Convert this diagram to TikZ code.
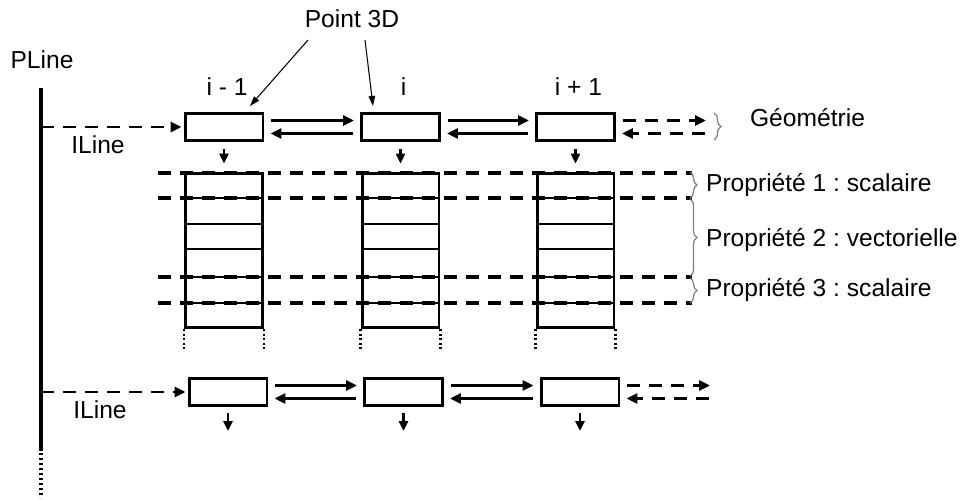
\documentclass[tikz,border=0pt]{standalone}
\usepackage{fontspec}
\setmainfont{Liberation Sans}
\usetikzlibrary{arrows.meta,decorations.pathreplacing}
\frenchspacing

\begin{document}
\begin{tikzpicture}[x=0.02cm, y=-0.02cm,
  every node/.style={font=\fontsize{14}{16}\selectfont, inner sep=1pt},
  pbox/.style={draw, line width=1.7pt, minimum width=1.56cm, minimum height=0.54cm, inner sep=0pt},
  pcol/.style={draw, line width=1.7pt, minimum width=1.54cm, minimum height=3.1cm, inner sep=0pt},
  link/.style={line width=1.7pt, shorten <=0.14cm, shorten >=0.12cm, -{Triangle[length=0.22cm,width=0.2cm]}},
  down/.style={line width=1.5pt, -{Triangle[length=0.2cm,width=0.18cm]}},
  dsh/.style={dash pattern=on 0.26cm off 0.18cm},
  ptr/.style={line width=0.6pt, -{Triangle[length=0.2cm,width=0.13cm]}},
  brc/.style={draw=gray, line width=0.7pt, decorate, decoration={brace, amplitude=4pt}}]
  \useasboundingbox (0,0) rectangle (968,500);

  % the PLine
  \node (pl) at (42,60) {PLine};
  \coordinate (ptop) at (41,88);
  \coordinate (pend) at (41,448);
  \coordinate (pbot) at (41,498);
  \draw[line width=2pt] (ptop) -- (pend);
  \draw[line width=2pt, dash pattern=on 0.05cm off 0.05cm] (pend) -- (pbot);

  % property lines
  \foreach \y in {173,198,277,303}
    \draw[dsh, line width=2pt] (158,\y) -- (692,\y);

  % first ILine, points and their properties
  \foreach \n/\x/\lab in {1/224/{i - 1}, 2/400.5/i, 3/575.5/{i + 1}} {
    \node[pbox] (t\n) at (\x,127) {};
    \node (l\n) at (\x+3,87) {\lab};
    \node[pcol] (c\n) at (\x,250.5) {};
    \foreach \y in {198,224,249,277,303}
      \draw[line width=1.4pt] (\x-38.5,\y) -- (\x+38.5,\y);
    \draw[line width=1.4pt, dash pattern=on 0.04cm off 0.05cm] (c\n.south west) -- ++(0,20);
    \draw[line width=1.4pt, dash pattern=on 0.04cm off 0.05cm] (c\n.south east) -- ++(0,20);
    \draw[down, shorten <=0.14cm, shorten >=0.16cm] (t\n) -- (c\n);
  }
  \foreach \a/\b in {1/2,2/3} {
    \draw[link] ([yshift=0.13cm]t\a.east) -- ([yshift=0.13cm]t\b.west);
    \draw[link] ([yshift=-0.13cm]t\b.west) -- ([yshift=-0.13cm]t\a.east);
  }
  \coordinate (tr) at (712,127);
  \draw[link, dsh] ([yshift=0.13cm]t3.east) -- ([yshift=0.13cm]tr);
  \draw[link, dsh] ([yshift=-0.13cm]tr) -- ([yshift=-0.13cm]t3.east);
  \draw[link, dsh, shorten <=0pt, shorten >=0.04cm] (ptop |- t1) -- (t1.west);
  \node (il1) at (98,145) {ILine};

  % second ILine
  \foreach \n/\x in {1/228,2/403.5,3/580} {
    \node[pbox] (b\n) at (\x,392) {};
    \coordinate (d\n) at (\x,431);
    \draw[down, shorten <=0.12cm] (b\n) -- (d\n);
  }
  \foreach \a/\b in {1/2,2/3} {
    \draw[link] ([yshift=0.13cm]b\a.east) -- ([yshift=0.13cm]b\b.west);
    \draw[link] ([yshift=-0.13cm]b\b.west) -- ([yshift=-0.13cm]b\a.east);
  }
  \coordinate (br) at (716,392);
  \draw[link, dsh] ([yshift=0.13cm]b3.east) -- ([yshift=0.13cm]br);
  \draw[link, dsh] ([yshift=-0.13cm]br) -- ([yshift=-0.13cm]b3.east);
  \draw[link, dsh, shorten <=0pt, shorten >=0.04cm] (ptop |- b1) -- (b1.west);
  \node (il2) at (100,410) {ILine};

  % Point 3D
  \node[anchor=base] (p3d) at (352,28) {Point 3D};
  \draw[ptr] ([xshift=-0.88cm,yshift=-0.24cm]p3d.base) -- ([xshift=0.52cm,yshift=0.12cm]t1.north);
  \draw[ptr] ([xshift=0.26cm,yshift=-0.24cm]p3d.base) -- ([xshift=-0.55cm,yshift=0.12cm]t2.north);

  % braces and names
  \draw[brc] (714,113) -- (714,140);
  \draw[brc] (690,172) -- (690,198);
  \draw[brc] (690,199) -- (690,276);
  \draw[brc] (690,278) -- (690,303);
  \node[anchor=west] (geo) at (748,118) {Géométrie};
  \node[anchor=west] (pr1) at (704,185) {Propriété 1 : scalaire};
  \node[anchor=west] (pr2) at (704,240) {Propriété 2 : vectorielle};
  \node[anchor=west] (pr3) at (704,290) {Propriété 3 : scalaire};
\end{tikzpicture}
\end{document}
